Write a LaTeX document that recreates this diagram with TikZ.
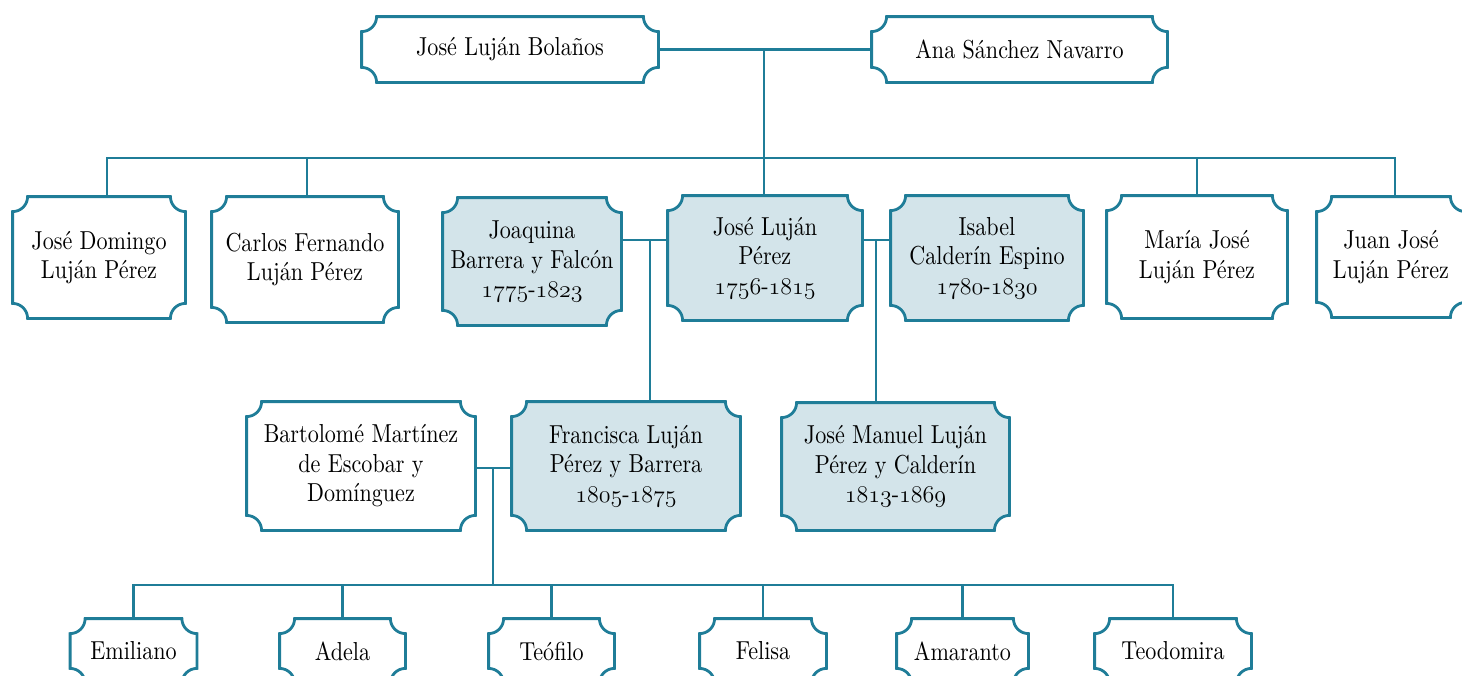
\documentclass[tikz,border=0pt]{standalone}
\usepackage{fontspec}
\setmainfont{lmroman10-regular}[Extension=.otf, FakeStretch=0.85]
\usetikzlibrary{backgrounds}
\definecolor{kinline}{RGB}{31,125,152}
\definecolor{kinfill}{RGB}{211,228,234}
\tikzset{
  person/.style={align=center, inner sep=0pt, font=\fontsize{13}{14.75}\selectfont},
  link/.style={draw=kinline, line width=1.4pt},
}
\newcommand{\famframe}[2]{%
  \draw[link, fill=#2]
    ([yshift=-7.5pt]#1.north west) arc[start angle=270, end angle=360, radius=7.5pt]
    -- ([xshift=-7.5pt]#1.north east) arc[start angle=180, end angle=270, radius=7.5pt]
    -- ([yshift=7.5pt]#1.south east) arc[start angle=90, end angle=180, radius=7.5pt]
    -- ([xshift=7.5pt]#1.south west) arc[start angle=0, end angle=90, radius=7.5pt]
    -- cycle;}
\newcommand{\yr}[2]{$\mathnormal{#1}$-$\mathnormal{#2}$}
\begin{document}
\begin{tikzpicture}[x=0.5pt, y=-0.5pt]
\useasboundingbox (0,0) rectangle (1462,675);
% grandparents
\node [person, minimum width=148pt, minimum height=32.5pt] (bolanos) at (510,49.5) {José Luján Bolaños};
\node [person, minimum width=147.5pt, minimum height=32.5pt] (ana) at (1019.5,49.5) {Ana Sánchez Navarro};
% children
\node [person, minimum width=86pt, minimum height=60.5pt] (domingo) at (99,257.5) {José Domingo\\Luján Pérez};
\node [person, minimum width=93pt, minimum height=62.5pt] (carlos) at (305,259.5) {Carlos Fernando\\Luján Pérez};
\node [person, minimum width=89pt, minimum height=63.5pt] (joaquina) at (532,261.5) {Joaquina\\Barrera y Falcón\\\yr{1775}{1823}};
\node [person, minimum width=97pt, minimum height=62pt] (perez) at (765,258) {José Luján\\Pérez\\\yr{1756}{1815}};
\node [person, minimum width=96pt, minimum height=62pt] (isabel) at (987,258) {Isabel\\Calderín Espino\\\yr{1780}{1830}};
\node [person, minimum width=90pt, minimum height=61pt] (maria) at (1197,257) {María José\\Luján Pérez};
\node [person, minimum width=74pt, minimum height=60pt] (juan) at (1391,257) {Juan José\\Luján Pérez};
% grandchildren
\node [person, minimum width=114pt, minimum height=64pt] (bartolome) at (361,466) {Bartolomé Martínez\\de Escobar y\\Domínguez};
\node [person, minimum width=114pt, minimum height=64pt] (francisca) at (626,466) {Francisca Luján\\Pérez y Barrera\\\yr{1805}{1875}};
\node [person, minimum width=113.5pt, minimum height=63.5pt] (manuel) at (895.5,466.5) {José Manuel Luján\\Pérez y Calderín\\\yr{1813}{1869}};
% great-grandchildren
\node [person, minimum width=63pt, minimum height=32pt] (emiliano) at (133.5,651) {Emiliano};
\node [person, minimum width=62.5pt, minimum height=32pt] (adela) at (342.5,651) {Adela};
\node [person, minimum width=62.5pt, minimum height=32pt] (teofilo) at (551.5,651) {Teófilo};
\node [person, minimum width=63pt, minimum height=32pt] (felisa) at (763,651) {Felisa};
\node [person, minimum width=65.5pt, minimum height=32pt] (amaranto) at (962.5,651) {Amaranto};
\node [person, minimum width=78pt, minimum height=32pt] (teodomira) at (1173,651) {Teodomira};
% frames
\begin{scope}[on background layer]
\foreach \n in {bolanos,ana,domingo,carlos,maria,juan,bartolome,emiliano,adela,teofilo,felisa,amaranto,teodomira}
  \famframe{\n}{white};
\foreach \n in {joaquina,perez,isabel,francisca,manuel}
  \famframe{\n}{kinfill};
\end{scope}
% marriages and descent
\coordinate (wed1) at (764,49.5);
\coordinate (bar1) at (764,158);
\draw [link] (bolanos) -- (ana);
\draw [link] (wed1) -- (wed1 |- perez.north);
\foreach \c/\s in {domingo/4pt,carlos/1pt,maria/0pt,juan/2pt}
  \draw [link] (bar1) -| ([xshift=\s]\c.north);
\coordinate (wed2) at (650,240);
\draw [link] (joaquina.east |- wed2) -- (perez.west |- wed2);
\draw [link] (wed2) -- (wed2 |- francisca.north);
\coordinate (wed3) at (876,240);
\draw [link] (perez.east |- wed3) -- (isabel.west |- wed3);
\draw [link] (wed3) -- (wed3 |- manuel.north);
\coordinate (wed4) at (493,468);
\coordinate (bar2) at (493,585);
\draw [link] (bartolome.east |- wed4) -- (francisca.west |- wed4);
\draw [link] (wed4) -- (bar2);
\foreach \c in {emiliano,adela,teofilo,felisa,amaranto,teodomira}
  \draw [link] (bar2) -| (\c.north);
\end{tikzpicture}
\end{document}
